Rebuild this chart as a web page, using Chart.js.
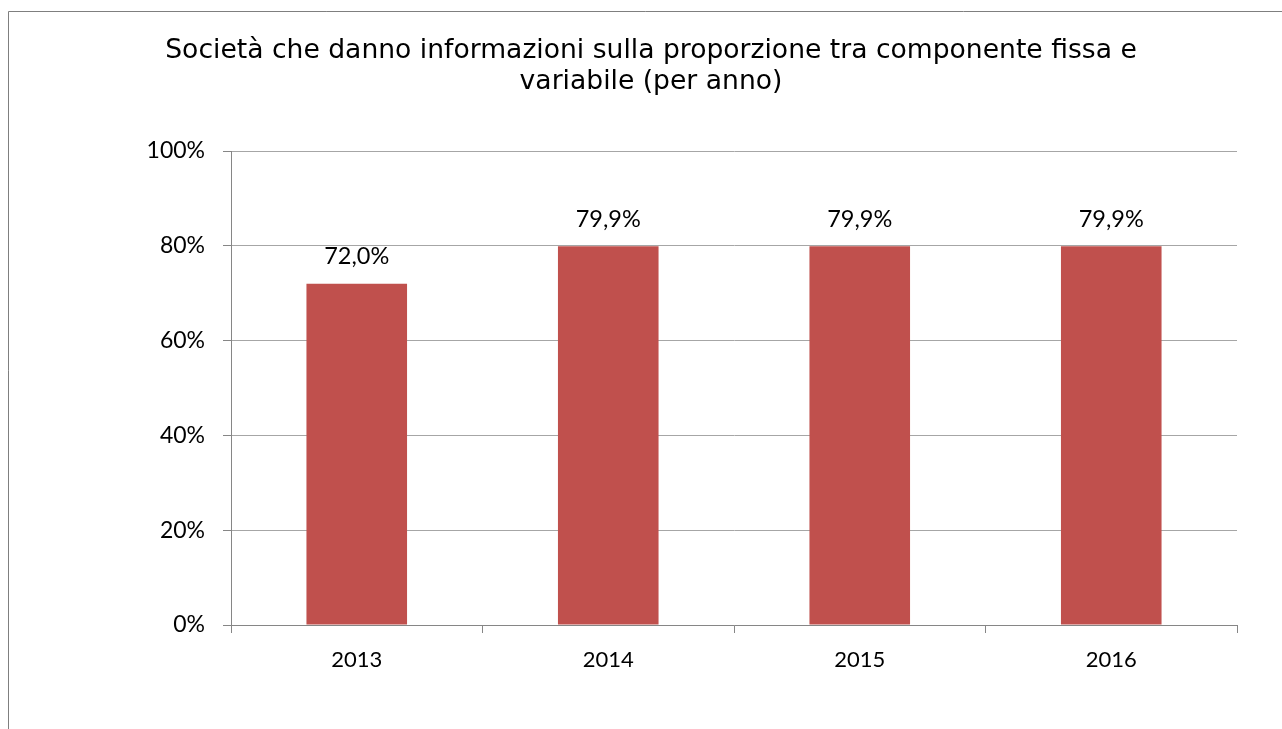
<!DOCTYPE html>
<html>
<head>
<meta charset="utf-8">
<script src="https://cdn.jsdelivr.net/npm/chart.js@4/dist/chart.umd.min.js"></script>
<style>
  html, body { margin: 0; padding: 0; background: #fff; }
  #wrap { position: relative; width: 1282px; height: 729px; }
</style>
</head>
<body>
<div id="wrap"><canvas id="chart" width="1282" height="729"></canvas></div>
<script>
var titleLines = ['Società che danno informazioni sulla proporzione tra componente fissa e', 'variabile (per anno)'];
var years = ['2013', '2014', '2015', '2016'];
var shares = [72.0, 79.9, 79.9, 79.9];
var yTicks = [0, 20, 40, 60, 80, 100];

var barColor = '#c0504d';
var gridColor = '#a6a6a6';
var axisColor = '#868686';
var tickFont = 'Lato';

// frame lines and title, drawn on the canvas
var framePlugin = {
    id: 'frame',
    beforeDraw: function (chart) {
        var ctx = chart.ctx;
        ctx.save();
        ctx.fillStyle = '#fff';
        ctx.fillRect(0, 0, chart.width, chart.height);
        ctx.strokeStyle = '#7f7f7f';
        ctx.lineWidth = 1;
        ctx.beginPath();
        ctx.moveTo(8.5, chart.height);
        ctx.lineTo(8.5, 11.5);
        ctx.lineTo(chart.width, 11.5);
        ctx.stroke();

        ctx.fillStyle = '#000';
        ctx.font = '26.6px "DejaVu Sans"';
        ctx.textAlign = 'center';
        ctx.textBaseline = 'alphabetic';
        titleLines.forEach(function (line, i) {
            ctx.fillText(line, 651, 58 + i * 31);
        });
        ctx.restore();
    }
};

// value labels above each bar
var labelPlugin = {
    id: 'valueLabels',
    afterDatasetsDraw: function (chart) {
        var ctx = chart.ctx;
        var meta = chart.getDatasetMeta(0);
        ctx.save();
        ctx.fillStyle = '#000';
        ctx.font = '23.5px ' + tickFont;
        ctx.textAlign = 'center';
        ctx.textBaseline = 'middle';
        meta.data.forEach(function (bar, i) {
            var txt = shares[i].toFixed(1).replace('.', ',') + '%';
            ctx.fillText(txt, bar.x, bar.y - 27);
        });
        ctx.restore();
    }
};

new Chart(document.getElementById('chart'), {
    type: 'bar',
    data: {
        labels: years,
        datasets: [{
            data: shares,
            backgroundColor: barColor,
            borderWidth: 0,
            categoryPercentage: 0.4,
            barPercentage: 1
        }]
    },
    options: {
        responsive: false,
        animation: false,
        layout: { padding: { left: 0, right: 45, top: 151, bottom: 0 } },
        plugins: {
            legend: { display: false },
            tooltip: { enabled: false }
        },
        scales: {
            y: {
                min: 0,
                max: 100,
                afterBuildTicks: function (axis) {
                    axis.ticks = yTicks.map(function (v) { return { value: v }; });
                },
                afterFit: function (axis) { axis.width = 231; },
                ticks: {
                    color: '#000',
                    font: { family: tickFont, size: 23 },
                    padding: 18,
                    callback: function (v) { return v + '%'; }
                },
                grid: { color: gridColor, tickLength: 8, tickColor: axisColor },
                border: { color: axisColor }
            },
            x: {
                afterFit: function (axis) { axis.height = 104; },
                ticks: {
                    color: '#000',
                    font: { family: tickFont, size: 22 },
                    padding: 14
                },
                grid: { drawOnChartArea: false, tickLength: 8, color: axisColor },
                border: { color: axisColor }
            }
        }
    },
    plugins: [framePlugin, labelPlugin]
});
</script>
</body>
</html>
